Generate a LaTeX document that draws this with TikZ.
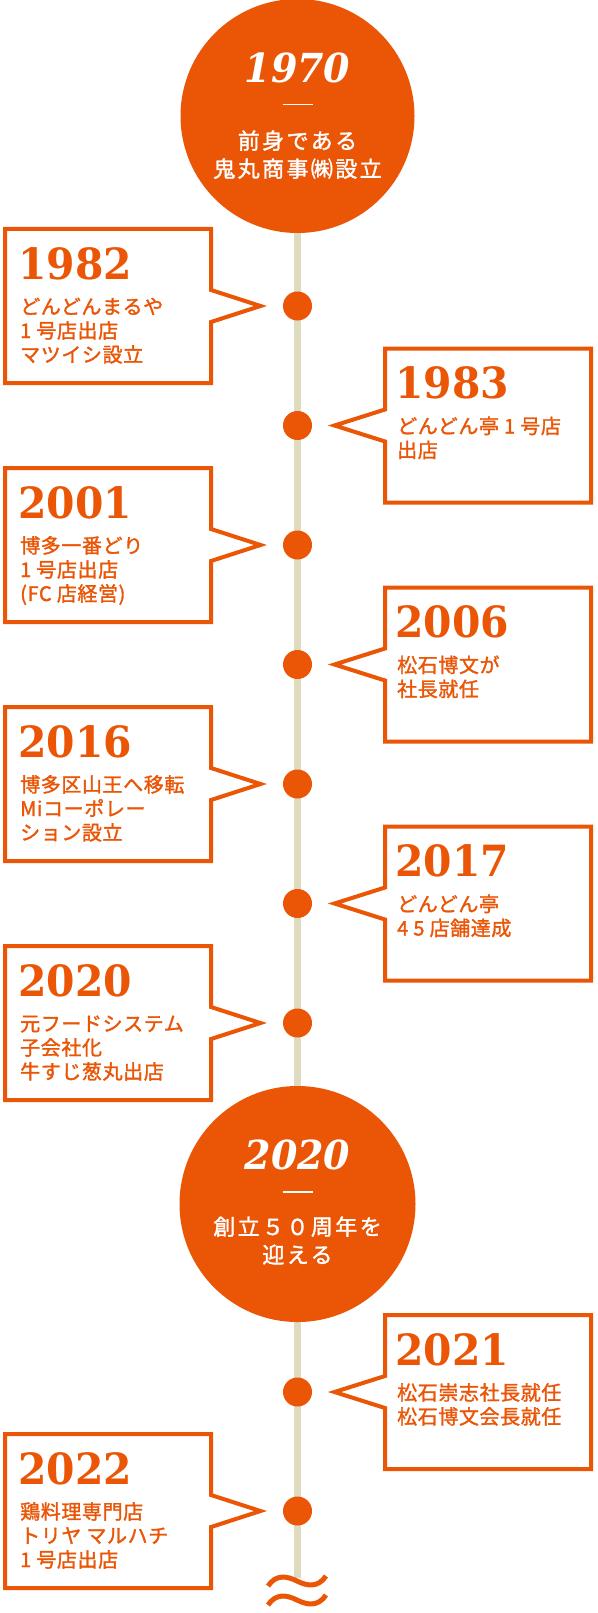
\documentclass[tikz,border=0pt]{standalone}
\usepackage{fontspec}
\usetikzlibrary{shapes.callouts,calc,backgrounds}
\definecolor{brand}{RGB}{234,85,6}
\definecolor{rail}{RGB}{222,219,190}
\newfontfamily\jp[LetterSpace=3,FakeBold=1.5]{Noto Sans CJK JP}
\newfontfamily\jpc[LetterSpace=11,FakeBold=1.5]{Noto Sans CJK JP}
\newfontfamily\yr[FakeStretch=0.95]{DejaVu Serif}
\newcommand\stk[1]{\vtop{\baselineskip=24pt\halign{##\hfil\cr#1\cr}}}
\newcommand\cstk[1]{\vtop{\baselineskip=28pt\halign{\hfil##\hfil\cr#1\cr}}}
\begin{document}
\begin{tikzpicture}[x=1pt,y=-1pt,
  bubble/.style={rectangle callout, draw=brand, line width=4pt, fill=white,
    minimum width=206pt, minimum height=154pt, inner sep=0pt,
    callout pointer width=32pt, miter limit=20},
  dot/.style={circle, fill=brand, minimum size=29pt, inner sep=0pt},
  big/.style={circle, fill=brand, inner sep=0pt},
  year/.style={anchor=base west, inner sep=0pt, text=brand,
    font=\yr\bfseries\fontsize{43}{43}\selectfont},
  desc/.style={anchor=base west, inner sep=0pt, text=brand,
    font=\jp\fontsize{20}{24}\selectfont},
  cyear/.style={anchor=base, inner sep=0pt, text=white,
    font=\yr\bfseries\itshape\fontsize{40}{40}\selectfont},
  cdash/.style={draw=white, line width=1.2pt},
  cdesc/.style={anchor=base, inner sep=0pt, text=white,
    font=\jpc\fontsize{22}{28}\selectfont},
  railline/.style={draw=rail, line width=6.5pt},
  wave/.style={draw=brand, line width=5pt}
]
\useasboundingbox (0,0) rectangle (597,1613);

% big circles
\node[big, minimum size=234pt] (c1970) at (297.5,116) {};
\node[big, minimum size=236pt] (c2020) at (297.5,1204) {};

% dots
\node[dot] (d1982) at (297.5,306) {};
\node[dot] (d1983) at (297.5,425.5) {};
\node[dot] (d2001) at (297.5,545) {};
\node[dot] (d2006) at (297.5,664.5) {};
\node[dot] (d2016) at (297.5,784) {};
\node[dot] (d2017) at (297.5,903.5) {};
\node[dot] (d2020) at (297.5,1023) {};
\node[dot] (d2021) at (297.5,1392) {};
\node[dot] (d2022) at (297.5,1511) {};

\coordinate (wend) at (297.5,1578);
\begin{pgfonlayer}{background}
\draw[railline] (c1970.center) -- (wend);
\end{pgfonlayer}

% wave
\draw[wave] (268,1586) .. controls (276,1574) and (287,1576) .. (297,1581)
  .. controls (307,1586) and (318,1588) .. (326,1576);
\draw[wave] (268,1605) .. controls (276,1593) and (287,1595) .. (297,1600)
  .. controls (307,1605) and (318,1607) .. (326,1595);

% circle texts
\node[cyear] (y1970) at ($(c1970.center)+(0,-33)$) {1970};
\draw[cdash] ($(c1970.center)+(-15,-11.5)$) -- ++(30,0);
\node[cdesc] (t1970) at ($(c1970.center)+(0,33)$) {\cstk{前身である\cr 鬼丸商事㈱設立}};

\node[cyear] (y2020c) at ($(c2020.center)+(0,-35)$) {2020};
\draw[cdash] ($(c2020.center)+(-15,-12)$) -- ++(30,0);
\node[cdesc] (t2020c) at ($(c2020.center)+(0,31)$) {\cstk{創立５０周年を\cr 迎える}};

% left bubbles
\foreach \yy/\name in {306/1982, 545/2001, 784/2016, 1023/2020, 1511/2022}{
  \node[bubble, callout absolute pointer={($(d\name.center)+(-37,0)$)}] (b\name) at (108,\yy) {};
}
% right bubbles
\foreach \yy/\name in {425.5/1983, 664.5/2006, 903.5/2017, 1392/2021}{
  \node[bubble, callout absolute pointer={($(d\name.center)+(37,0)$)}] (b\name) at (488,\yy) {};
}

% left texts
\node[year] (y1982) at ($(b1982.north west)+(15,52)$) {1982};
\node[desc] (t1982) at ($(b1982.north west)+(17,87)$) {\stk{どんどんまるや\cr 1 号店出店\cr マツイシ設立}};
\node[year] (y2001) at ($(b2001.north west)+(15,52)$) {2001};
\node[desc] (t2001) at ($(b2001.north west)+(17,87)$) {\stk{博多一番どり\cr 1 号店出店\cr (FC 店経営)}};
\node[year] (y2016) at ($(b2016.north west)+(15,52)$) {2016};
\node[desc] (t2016) at ($(b2016.north west)+(17,87)$) {\stk{博多区山王へ移転\cr Miコーポレー\cr ション設立}};
\node[year] (y2020) at ($(b2020.north west)+(15,52)$) {2020};
\node[desc] (t2020) at ($(b2020.north west)+(17,87)$) {\stk{元フードシステム\cr 子会社化\cr 牛すじ葱丸出店}};
\node[year] (y2022) at ($(b2022.north west)+(15,52)$) {2022};
\node[desc] (t2022) at ($(b2022.north west)+(17,87)$) {\stk{鶏料理専門店\cr トリヤ マルハチ\cr 1 号店出店}};

% right texts
\node[year] (y1983) at ($(b1983.north west)+(12,52)$) {1983};
\node[desc] (t1983) at ($(b1983.north west)+(14,87)$) {\stk{どんどん亭 1 号店\cr 出店}};
\node[year] (y2006) at ($(b2006.north west)+(12,52)$) {2006};
\node[desc] (t2006) at ($(b2006.north west)+(14,87)$) {\stk{松石博文が\cr 社長就任}};
\node[year] (y2017) at ($(b2017.north west)+(12,52)$) {2017};
\node[desc] (t2017) at ($(b2017.north west)+(14,87)$) {\stk{どんどん亭\cr 4 5 店舗達成}};
\node[year] (y2021) at ($(b2021.north west)+(12,52)$) {2021};
\node[desc] (t2021) at ($(b2021.north west)+(14,87)$) {\stk{松石崇志社長就任\cr 松石博文会長就任}};
\end{tikzpicture}
\end{document}
